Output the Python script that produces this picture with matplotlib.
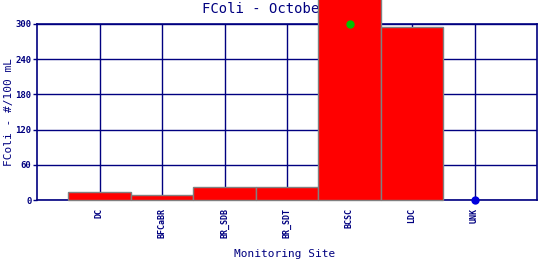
import matplotlib
matplotlib.use('Agg')
import matplotlib.pyplot as plt
import numpy as np

sites = ['DC', 'BFCaBR', 'BR_SDB', 'BR_SDT', 'BCSC', 'LDC', 'UNK']
fcoli = [14, 8, 22, 22, 420, 295, np.nan]
green_pts = {'BCSC': 300}
blue_pts = {'UNK': 0}
yticks = [0, 60, 120, 180, 240, 300]

navy = '#000080'
plt.rcParams['font.family'] = 'DejaVu Sans Mono'

fig = plt.figure(figsize=(5.4, 2.6), dpi=100)
ax = fig.add_axes([37/540, 60/260, 500/540, 176/260])

x = np.arange(1, len(sites) + 1)
vals = np.array(fcoli, dtype=float)
ok = ~np.isnan(vals)
ax.bar(x[ok], vals[ok], width=1.0, color='#ff0000', edgecolor='#808080',
       linewidth=1.0, clip_on=False, zorder=3)

for name, v in green_pts.items():
    ax.plot(sites.index(name) + 1, v, 'o', color='#00c000', ms=6, mew=0,
            clip_on=False, zorder=4)
for name, v in blue_pts.items():
    ax.plot(sites.index(name) + 1, v, 'o', color='#0000dd', ms=6, mew=0,
            clip_on=False, zorder=4)

ax.set_xlim(0, 8)
ax.set_ylim(0, 300)
ax.set_xticks(x)
ax.set_xticklabels(sites, rotation=90, fontsize=6, color=navy, fontweight='bold')
ax.set_yticks(yticks)
ax.set_yticklabels([str(t) for t in yticks], fontsize=6.5, color=navy, fontweight='bold')
ax.tick_params(axis='x', length=0, pad=6)
ax.tick_params(axis='y', length=3, color=navy, width=1, pad=1)
ax.grid(True, color=navy, linewidth=1.0, zorder=1)
ax.set_axisbelow(True)
for s in ax.spines.values():
    s.set_color(navy)
    s.set_linewidth(1.2)

fig.text(9/540, 1 - 112/260, 'FColi - #/100 mL', rotation=90, ha='center',
         va='center', fontsize=8, color=navy)
fig.text(285/540, 1 - 254/260, 'Monitoring Site', ha='center', va='center',
         fontsize=8, color=navy)
ax.text(202/540, 1 - 9/260, 'FColi - October', transform=fig.transFigure,
        ha='left', va='center', fontsize=10, color=navy, zorder=2)

fig.savefig('out.png', dpi=100)
